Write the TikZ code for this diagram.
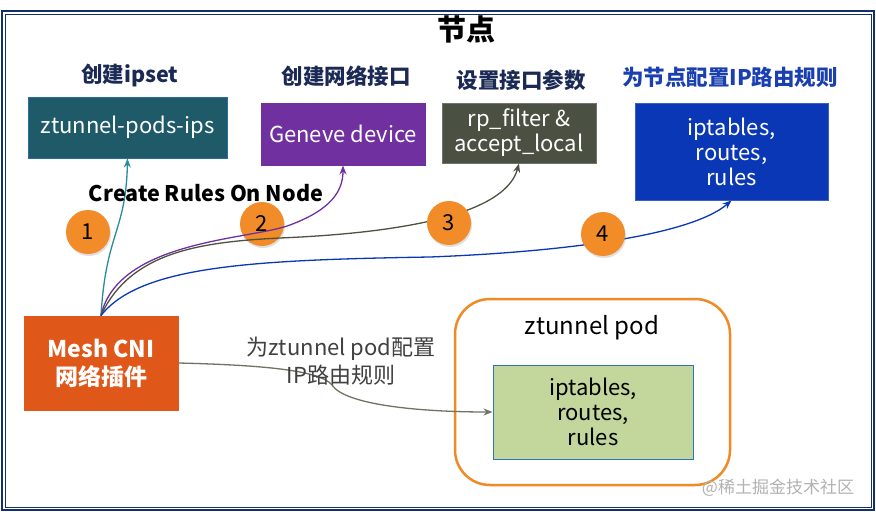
\documentclass[tikz,border=0pt]{standalone}
\usepackage{fontspec}
\setmainfont{Noto Sans CJK SC}
\usetikzlibrary{arrows.meta,shadows}
\definecolor{navy}{HTML}{14306B}
\definecolor{hdr}{HTML}{1B2A55}
\definecolor{hdrblue}{HTML}{1A3FB0}
\definecolor{tealbox}{HTML}{1F5A68}
\definecolor{purplebox}{HTML}{7030A0}
\definecolor{olivebox}{HTML}{4B5142}
\definecolor{bluebox}{HTML}{0A37B5}
\definecolor{cnibox}{HTML}{E0571A}
\definecolor{circ}{HTML}{F28C28}
\definecolor{greenbox}{HTML}{C3D69B}
\definecolor{greenedge}{HTML}{2E75B6}
\definecolor{podedge}{HTML}{F08A24}
\definecolor{tealline}{HTML}{2A8A9F}
\definecolor{grayline}{HTML}{4D5340}
\definecolor{podline}{HTML}{6B7560}
\tikzset{
  hdrlabel/.style={font=\fontsize{21.5}{24}\selectfont\bfseries, text=hdr},
  box/.style={draw, line width=1pt, text=white, align=center, inner sep=0pt,
     font=\fontsize{22}{25}\selectfont},
  numc/.style={circle, fill=circ, minimum size=44pt, inner sep=0pt,
     font=\fontsize{22}{22}\selectfont, text=black,
     drop shadow={shadow xshift=1pt, shadow yshift=-2pt, opacity=0.25}},
  conn/.style={line width=1.3pt, -{Stealth[length=9pt,width=7pt]}},
}
\begin{document}
\begin{tikzpicture}[x=1pt,y=-1pt]
\useasboundingbox (0,0) rectangle (876,514);
\fill[white] (0,0) rectangle (876,514);
% frame
\draw[navy, line width=1.6pt] (2,11) rectangle (874,510);
\draw[navy, line width=0.6pt] (5,14) rectangle (871,507);
% title
\node[font=\fontsize{29}{29}\selectfont\bfseries] (title) at (466,29) {节点};
% headers
\node[hdrlabel] (h1) at (130,75) {创建ipset};
\node[hdrlabel] (h2) at (346,76) {创建网络接口};
\node[hdrlabel] (h3) at (521,80) {设置接口参数};
\node[hdrlabel, text=hdrblue] (h4) at (730,77) {为节点配置IP路由规则};
% boxes
\node[box, fill=tealbox, draw=greenedge!70!tealbox, minimum width=199pt, minimum height=61pt] (b1) at (127.5,127.5) {ztunnel-pods-ips};
\node[box, fill=purplebox, draw=purplebox, minimum width=164pt, minimum height=62pt] (b2) at (343,134) {Geneve device};
\node[box, fill=olivebox, draw=olivebox!80!white, minimum width=154pt, minimum height=60pt] (b3) at (519,133) {rp\_filter \&\\accept\_local};
\node[box, fill=bluebox, draw=bluebox!80!white, minimum width=193pt, minimum height=97pt] (b4) at (731.5,151.5) {iptables,\\routes,\\rules};
% Mesh CNI
\node[box, fill=cnibox, draw=cnibox, minimum width=154pt, minimum height=94pt, font=\fontsize{23}{28}\selectfont\bfseries] (cni) at (101,363) {Mesh CNI\\网络插件};
% ztunnel pod
\draw[podedge, line width=2.5pt, rounded corners=35pt] (455,299) rectangle (730,485);
\node[font=\fontsize{24}{24}\selectfont] (podlbl) at (592,328) {ztunnel pod};
\node[box, fill=greenbox, draw=greenedge, text=black, minimum width=200pt, minimum height=94pt] (gb) at (593,412) {iptables,\\routes,\\rules};
% circle 2 behind its lines
\node[numc] (c2) at (262,224) {2};
% connectors
\draw[conn, tealline] (cni.north) .. controls (106,232) and (126,232) .. (b1.south);
\coordinate (p2) at (290,225);
\draw[conn, purplebox] (cni.north) .. controls (118,240) and (250,240) .. (p2) .. controls (330,210) and (343,192) .. (b2.south);
\coordinate (p3) at (280,238);
\draw[conn, grayline] (cni.north) .. controls (130,252) and (200,242) .. (p3) .. controls (400,233) and (505,215) .. (b3.south);
\coordinate (p4) at (430,257);
\draw[conn, bluebox] (cni.north) .. controls (140,266) and (250,260) .. (p4) .. controls (560,252) and (690,236) .. (b4.south);
\draw[conn, podline] (cni.east) .. controls (260,365) and (320,370) .. (332,385) .. controls (345,405) and (420,412) .. (gb.west);
\node[font=\fontsize{22}{28}\selectfont, text=black!75, align=center] (podcfg) at (341,361) {为ztunnel pod配置\\IP路由规则};
% circles
\node[numc] (c1) at (88,232) {1};
\node[numc] (c3) at (449,223) {3};
\node[numc] (c4) at (603,234) {4};
% label
\node[font=\fontsize{21.5}{21.5}\selectfont\bfseries] (crn) at (206,193) {Create Rules On Node};
% watermark
\node[font=\fontsize{17}{17}\selectfont, text=black!30] (wm) at (778,488) {@稀土掘金技术社区};
\end{tikzpicture}
\end{document}
